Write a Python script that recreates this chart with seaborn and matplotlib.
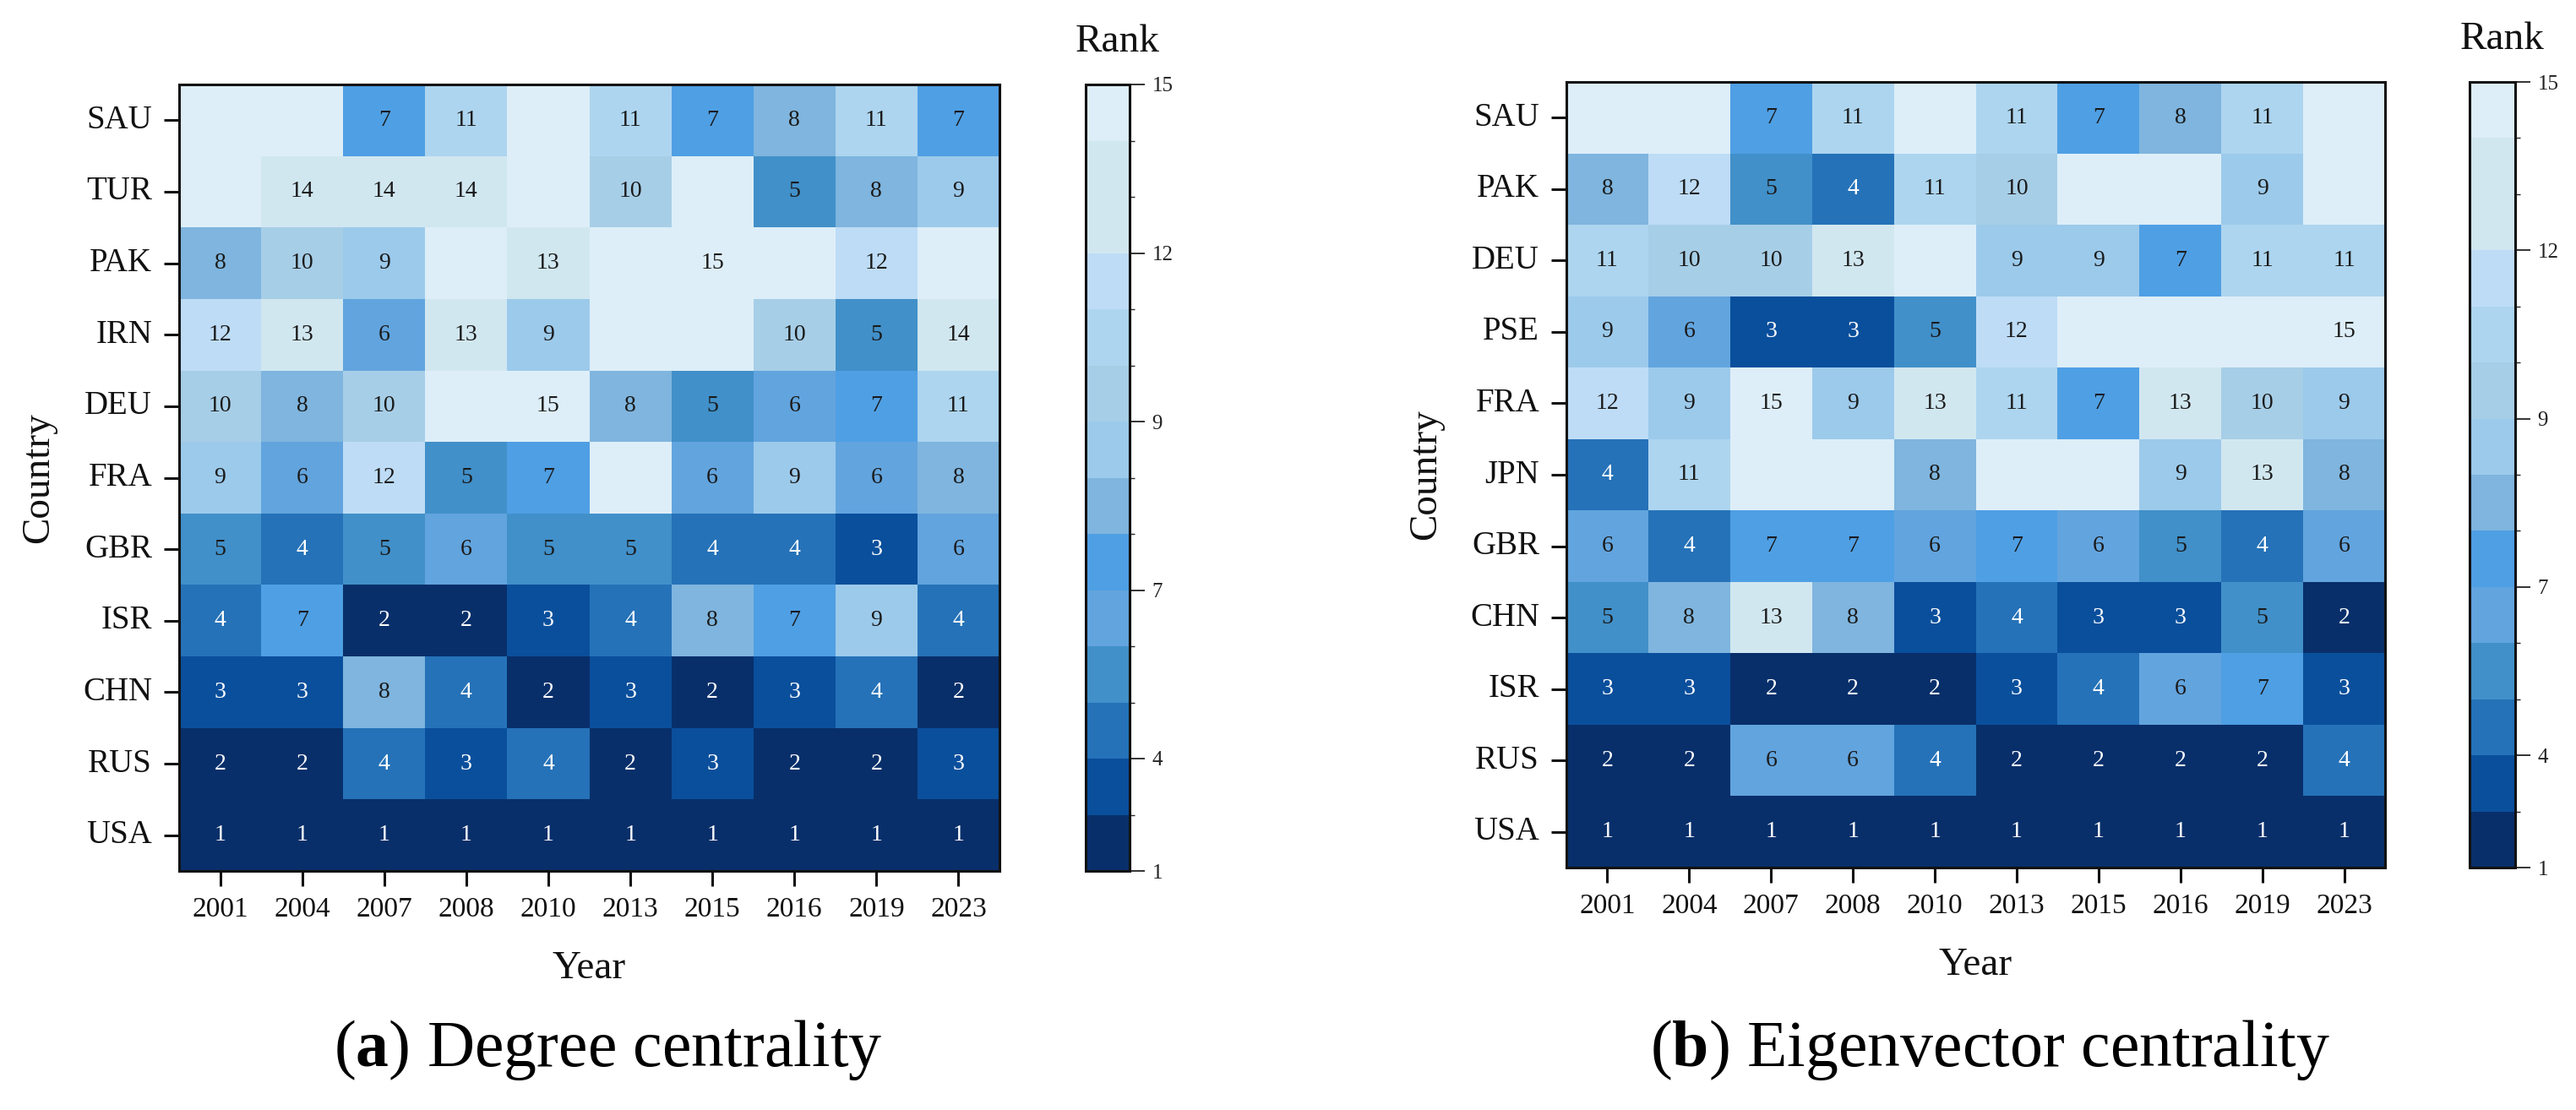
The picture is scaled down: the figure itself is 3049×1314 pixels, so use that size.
import numpy as np
import pandas as pd
import matplotlib
matplotlib.use("Agg")
import matplotlib.pyplot as plt
from matplotlib.colors import ListedColormap, BoundaryNorm
from matplotlib.cm import ScalarMappable
import seaborn as sns

# ---------------- data ----------------
years = ["2001", "2004", "2007", "2008", "2010", "2013", "2015", "2016", "2019", "2023"]

deg_countries = ["SAU", "TUR", "PAK", "IRN", "DEU", "FRA", "GBR", "ISR", "CHN", "RUS", "USA"]
deg_SAU = [None, None, 7, 11, None, 11, 7, 8, 11, 7]
deg_TUR = [None, 14, 14, 14, None, 10, None, 5, 8, 9]
deg_PAK = [8, 10, 9, None, 13, None, 15, None, 12, None]
deg_IRN = [12, 13, 6, 13, 9, None, None, 10, 5, 14]
deg_DEU = [10, 8, 10, None, 15, 8, 5, 6, 7, 11]
deg_FRA = [9, 6, 12, 5, 7, None, 6, 9, 6, 8]
deg_GBR = [5, 4, 5, 6, 5, 5, 4, 4, 3, 6]
deg_ISR = [4, 7, 2, 2, 3, 4, 8, 7, 9, 4]
deg_CHN = [3, 3, 8, 4, 2, 3, 2, 3, 4, 2]
deg_RUS = [2, 2, 4, 3, 4, 2, 3, 2, 2, 3]
deg_USA = [1, 1, 1, 1, 1, 1, 1, 1, 1, 1]

eig_countries = ["SAU", "PAK", "DEU", "PSE", "FRA", "JPN", "GBR", "CHN", "ISR", "RUS", "USA"]
eig_SAU = [None, None, 7, 11, None, 11, 7, 8, 11, None]
eig_PAK = [8, 12, 5, 4, 11, 10, None, None, 9, None]
eig_DEU = [11, 10, 10, 13, None, 9, 9, 7, 11, 11]
eig_PSE = [9, 6, 3, 3, 5, 12, None, None, None, 15]
eig_FRA = [12, 9, 15, 9, 13, 11, 7, 13, 10, 9]
eig_JPN = [4, 11, None, None, 8, None, None, 9, 13, 8]
eig_GBR = [6, 4, 7, 7, 6, 7, 6, 5, 4, 6]
eig_CHN = [5, 8, 13, 8, 3, 4, 3, 3, 5, 2]
eig_ISR = [3, 3, 2, 2, 2, 3, 4, 6, 7, 3]
eig_RUS = [2, 2, 6, 6, 4, 2, 2, 2, 2, 4]
eig_USA = [1, 1, 1, 1, 1, 1, 1, 1, 1, 1]

deg_rows = [deg_SAU, deg_TUR, deg_PAK, deg_IRN, deg_DEU, deg_FRA,
            deg_GBR, deg_ISR, deg_CHN, deg_RUS, deg_USA]
eig_rows = [eig_SAU, eig_PAK, eig_DEU, eig_PSE, eig_FRA, eig_JPN,
            eig_GBR, eig_CHN, eig_ISR, eig_RUS, eig_USA]

missing_rank = 15  # cells outside the ranking are drawn with the lightest colour

# colourbar bands, from rank 1 (bottom) to rank 15 (top)
band_colors = ["#082f6a", "#0a4f9c", "#2572b8", "#4190c9", "#62a4de", "#4f9fe4",
               "#7fb5de", "#9ccaeb", "#a7cee7", "#add5ef", "#bedcf6", "#d1e7f0",
               "#d1e7f0", "#ddeef8"]
cbar_tick_pos = [1, 3, 6, 9, 12, 15]
cbar_tick_labels = ["1", "4", "7", "9", "12", "15"]

captions = [("a", "Degree centrality"), ("b", "Eigenvector centrality")]

# ---------------- style ----------------
sns.set_theme(style="white")
plt.rcParams["font.family"] = ["Liberation Serif", "DejaVu Serif"]
plt.rcParams["mathtext.fontset"] = "custom"
plt.rcParams["mathtext.rm"] = "Liberation Serif"
plt.rcParams["mathtext.bf"] = "Liberation Serif:bold"

cmap = ListedColormap(band_colors)
cell_bounds = [0.5] + [v + 0.5 for v in range(2, 15)] + [15.5]
cell_norm = BoundaryNorm(cell_bounds, cmap.N)
bar_norm = BoundaryNorm(np.arange(1, 16), cmap.N)

W, H = 3049, 1314
fig = plt.figure(figsize=(W / 100, H / 100), dpi=100)

def fr(x0, y0, x1, y1):
    return [x0 / W, 1 - y1 / H, (x1 - x0) / W, (y1 - y0) / H]

panels = [
    dict(rows=deg_rows, countries=deg_countries,
         ax=fr(212, 100, 1183, 1031), cax=fr(1285, 100, 1337, 1031),
         rank_xy=(1323, 50), cap_x=720),
    dict(rows=eig_rows, countries=eig_countries,
         ax=fr(1854, 97, 2823, 1027), cax=fr(2923, 97, 2977, 1027),
         rank_xy=(2962, 47), cap_x=2355),
]

text_dark = "#1a1a1a"

for p, (lab, capt) in zip(panels, captions):
    raw = pd.DataFrame(p["rows"], index=p["countries"], columns=years, dtype=float)
    vals = raw.fillna(missing_rank)
    annot = raw.map(lambda v: "" if pd.isna(v) else str(int(v)))

    ax = fig.add_axes(p["ax"])
    cax = fig.add_axes(p["cax"])
    sns.heatmap(vals, ax=ax, cmap=cmap, norm=cell_norm, annot=annot.values, fmt="",
                cbar=False, linewidths=0,
                annot_kws=dict(fontsize=20, family="Liberation Serif"))
    # per-cell text colour
    for t in ax.texts:
        x, y = t.get_position()
        v = vals.values[int(y), int(x)]
        t.set_color("white" if v <= 4 else text_dark)

    for s in ax.spines.values():
        s.set_visible(True)
        s.set_color("#111111")
        s.set_linewidth(2.2)
    ax.tick_params(axis="both", which="major", length=13, width=2.2, color="#111111",
                   bottom=True, left=True, direction="out")
    ax.tick_params(axis="x", labelsize=24, pad=9, labelcolor="#111111")
    ax.tick_params(axis="y", labelsize=28, pad=10, labelcolor="#111111")
    plt.setp(ax.get_xticklabels(), rotation=0)
    plt.setp(ax.get_yticklabels(), rotation=0)

    ax.set_xlabel("Year", fontsize=34, color="#111111")
    ax.set_ylabel("Country", fontsize=34, color="#111111")
    ax.xaxis.set_label_coords(0.5, -116 / 931)
    ax.xaxis.label.set_va("center")
    ax.yaxis.set_label_coords(-166 / 971, 0.5)
    ax.yaxis.label.set_va("center")

    cb = fig.colorbar(ScalarMappable(norm=bar_norm, cmap=cmap), cax=cax)
    cb.set_ticks(cbar_tick_pos)
    cb.set_ticklabels(cbar_tick_labels)
    cb.outline.set_edgecolor("#111111")
    cb.outline.set_linewidth(2.2)
    cax.tick_params(length=13, width=1.4, color="#333333", labelsize=18,
                    pad=6, labelcolor="#222222", direction="out")

    fig.text(p["rank_xy"][0] / W, 1 - p["rank_xy"][1] / H, "Rank",
             fontsize=34, ha="center", va="center", color="#111111")
    fig.text(p["cap_x"] / W, 1 - 1243 / H, "($\\mathbf{" + lab + "}$) " + capt,
             fontsize=56, ha="center", va="center", color="#000000")

fig.savefig("out.png", dpi=100, facecolor="white")
